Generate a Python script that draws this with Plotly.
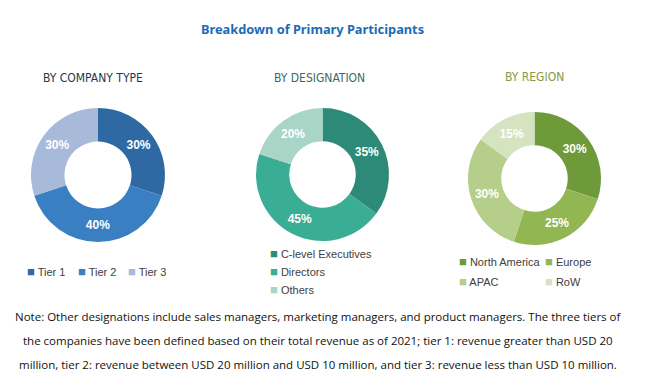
import plotly.graph_objects as go

W, H = 649, 384
OFF = 8  # page body margin offset

title_text = "Breakdown of Primary Participants"

company_labels = ["Tier 1", "Tier 2", "Tier 3"]
company_values = [30, 40, 30]
company_colors = ["#2E69A3", "#3A7FC1", "#A7BAD9"]

designation_labels = ["C-level Executives", "Directors", "Others"]
designation_values = [35, 45, 20]
designation_colors = ["#2E8A78", "#3AAE94", "#A8D5C5"]

region_labels = ["North America", "Europe", "APAC", "RoW"]
region_values = [30, 25, 30, 15]
region_colors = ["#6F9A3A", "#92B652", "#B5CE89", "#D5E3C0"]

subtitles = ["BY COMPANY TYPE", "BY DESIGNATION", "BY REGION"]
subtitle_colors = ["#27364C", "#3A6A65", "#86984A"]

note_lines = [
    "Note: Other designations include sales managers, marketing managers, and product managers. The three tiers of",
    "the companies have been defined based on their total revenue as of 2021; tier 1: revenue greater than USD 20",
    "million, tier 2: revenue between USD 20 million and USD 10 million, and tier 3: revenue less than USD 10 million.",
]


def px(x):
    return (x - OFF) / W


def py(y):
    return 1 - (y - OFF) / H


def dom(l, r, t, b):
    return dict(x=[px(l), px(r)], y=[py(b), py(t)])


fig = go.Figure()

pie_specs = [
    (company_labels, company_values, company_colors, dom(31, 165, 108, 242)),
    (designation_labels, designation_values, designation_colors, dom(256, 389, 108, 241)),
    (region_labels, region_values, region_colors, dom(468, 601, 112, 245)),
]

for labels, values, colors, d in pie_specs:
    fig.add_trace(go.Pie(
        labels=labels, values=values,
        marker=dict(colors=colors, line=dict(width=0)),
        hole=0.5, sort=False, direction="clockwise", rotation=0,
        textinfo="percent", texttemplate="%{value}%",
        textposition="inside", insidetextorientation="horizontal",
        textfont=dict(family="Liberation Sans, Arial", size=12, color="white", weight="bold"),
        domain=d, showlegend=False, hoverinfo="label+percent",
    ))

ann = []
ann.append(dict(text="<b>" + title_text + "</b>", x=px(312), y=py(29), xref="paper", yref="paper",
                showarrow=False, font=dict(family="Noto Sans, Open Sans", size=12.8, color="#1A6BB8"),
                xanchor="center", yanchor="middle"))

sub_pos = [(93, 78), (319, 78), (534, 77)]
for s, c, (x, y) in zip(subtitles, subtitle_colors, sub_pos):
    ann.append(dict(text=s, x=px(x), y=py(y), xref="paper", yref="paper", showarrow=False,
                    font=dict(family="DejaVu Sans Condensed, Liberation Sans Narrow, Roboto", size=12, color=c),
                    xanchor="center", yanchor="middle"))

leg_font = dict(family="Liberation Sans, Arial", size=11, color="#404040")


def legend_item(label, color, x, y):
    ann.append(dict(text=f"<span style='color:{color};font-size:13px'>■</span> {label}", x=px(x), y=py(y),
                    xref="paper", yref="paper", showarrow=False, font=leg_font,
                    xanchor="left", yanchor="middle"))


# company legend (horizontal)
for lab, col, x in zip(company_labels, company_colors, [25, 76, 126]):
    legend_item(lab, col, x, 271)

# designation legend (vertical)
for lab, col, y in zip(designation_labels, designation_colors, [253, 271, 289]):
    legend_item(lab, col, 268, y)

# region legend (2 columns)
reg_pos = [(457, 261), (543, 261), (457, 281), (543, 281)]
for lab, col, (x, y) in zip(region_labels, region_colors, reg_pos):
    legend_item(lab, col, x, y)

for line, y in zip(note_lines, [316, 340, 364]):
    ann.append(dict(text=line, x=px(318), y=py(y), xref="paper", yref="paper", showarrow=False,
                    font=dict(family="Liberation Sans Narrow, Open Sans", size=11.5, color="#111111"),
                    xanchor="center", yanchor="middle"))

fig.update_layout(
    width=W, height=H,
    margin=dict(l=0, r=0, t=0, b=0),
    paper_bgcolor="white", plot_bgcolor="white",
    annotations=ann,
)

fig.write_html("out.html")
